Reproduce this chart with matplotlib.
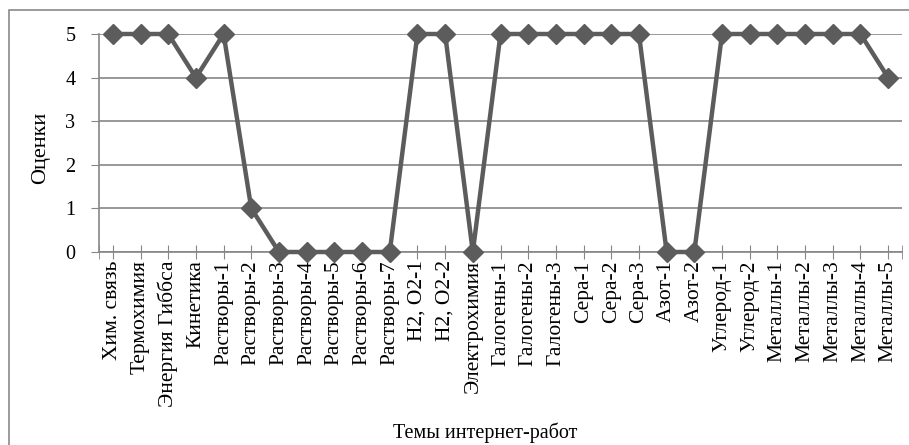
import matplotlib
matplotlib.use("Agg")
import matplotlib.pyplot as plt
from matplotlib.patches import Rectangle

plt.rcParams['font.family'] = ['Liberation Serif', 'DejaVu Serif']

# Topics and grades
topics = ["Хим. связь", "Термохимия", "Энергия Гиббса", "Кинетика",
          "Растворы-1", "Растворы-2", "Растворы-3", "Растворы-4", "Растворы-5",
          "Растворы-6", "Растворы-7", "H2, O2-1", "H2, O2-2", "Электрохимия",
          "Галогены-1", "Галогены-2", "Галогены-3", "Сера-1", "Сера-2", "Сера-3",
          "Азот-1", "Азот-2", "Углерод-1", "Углерод-2", "Металлы-1", "Металлы-2",
          "Металлы-3", "Металлы-4", "Металлы-5"]
grades = [5, 5, 5, 4, 5, 1, 0, 0, 0, 0, 0, 5, 5, 0,
          5, 5, 5, 5, 5, 5, 0, 0, 5, 5, 5, 5, 5, 5, 4]

fig = plt.figure(figsize=(9.09, 4.45), dpi=100)
ax = fig.add_axes([99 / 909, (445 - 252) / 445, 803 / 909, 218 / 445])

# outer frame around the whole chart
fig.patches.append(Rectangle((9 / 909, -0.01), 0.999, (445 - 10) / 445 + 0.01,
                             transform=fig.transFigure, fill=False,
                             edgecolor='#8a8a8a', linewidth=1.2))

x = range(len(topics))
ax.plot(x, grades, color='#5c5c5c', linewidth=3.2, marker='D', markersize=10,
        clip_on=False, zorder=3)

ax.set_xlim(-0.5, len(topics) - 0.5)
ax.set_ylim(0, 5)
ax.set_yticks(range(6))
ax.yaxis.grid(True, color='#868686', linewidth=1.2)
ax.set_axisbelow(True)

ax.set_xticks(list(x))
ax.set_xticklabels(topics, rotation=90, fontsize=15.5)
ax.set_xticks([-0.5, len(topics) - 0.5], minor=True)
ax.tick_params(axis='x', which='both', direction='inout', length=10,
               color='#868686', pad=1)
ax.tick_params(axis='y', length=6, color='#868686', labelsize=14.5, pad=11)

for side in ['top', 'right']:
    ax.spines[side].set_visible(False)
for side in ['left', 'bottom']:
    ax.spines[side].set_color('#868686')
    ax.spines[side].set_linewidth(1.2)

ax.set_ylabel("Оценки", fontsize=16)
ax.yaxis.set_label_coords(-0.061, 0.477)
fig.text(485 / 909, 12 / 445, "Темы интернет-работ",
         ha='center', va='center', fontsize=14.5)

fig.savefig("out.png", dpi=100)
